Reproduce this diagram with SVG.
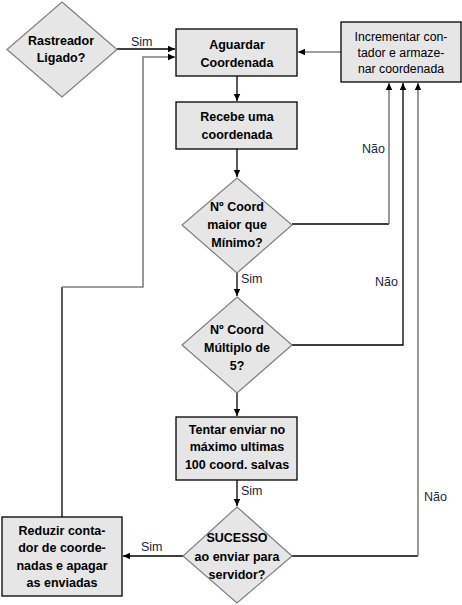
<svg xmlns="http://www.w3.org/2000/svg" width="462" height="605" viewBox="0 0 462 605">
<style>
.box{fill:#e6e6e6;stroke:#000;stroke-width:1.3}
.dia{fill:#e6e6e6;stroke:#7f7f7f;stroke-width:1.2}
.t{font-family:"Liberation Sans",Arial,sans-serif;font-size:12.5px;font-weight:bold;fill:#000;text-anchor:middle}
.tr{font-family:"Liberation Sans",Arial,sans-serif;font-size:12.3px;fill:#000;text-anchor:middle}
.lb{font-family:"Liberation Sans",Arial,sans-serif;font-size:12.5px;fill:#1a2540}
.k{fill:none;stroke:#000;stroke-width:1.3}
.g{fill:none;stroke:#7f7f7f;stroke-width:1.6}
</style>
<defs>
<marker id="ah" markerWidth="8" markerHeight="8" refX="7" refY="4" orient="auto" markerUnits="userSpaceOnUse">
<path d="M0,0.8 L7,4 L0,7.2 Z" fill="#000"/>
</marker>
</defs>
<rect width="462" height="605" fill="#fff"/>
<g id="connectors">
<path class="k" d="M117,49 H175" marker-end="url(#ah)"/>
<path class="k" d="M62,517 V287"/>
<path class="g" d="M62,287 H143 V57 H175" marker-end="url(#ah)"/>
<path class="g" d="M341,52 H298" marker-end="url(#ah)"/>
<path class="k" d="M237,76 V101" marker-end="url(#ah)"/>
<path class="k" d="M237,149 V177" marker-end="url(#ah)"/>
<path class="k" d="M237,273 V296" marker-end="url(#ah)"/>
<path class="k" d="M237,393 V416" marker-end="url(#ah)"/>
<path class="k" d="M237,480 V506" marker-end="url(#ah)"/>
<path class="k" d="M183,556 H123" marker-end="url(#ah)"/>
<path class="k" d="M292,224 H389"/>
<path class="g" d="M389,224 V83" marker-end="url(#ah)"/>
<path class="k" d="M292,345 H403 V83" marker-end="url(#ah)"/>
<path class="k" d="M292,556 H418"/>
<path class="g" d="M418,556 V83" marker-end="url(#ah)"/>
<text class="lb" x="131" y="46">Sim</text>
<text class="lb" x="362" y="153">Não</text>
<text class="lb" x="241" y="283">Sim</text>
<text class="lb" x="375" y="286">Não</text>
<text class="lb" x="241" y="495">Sim</text>
<text class="lb" x="424" y="501">Não</text>
<text class="lb" x="141" y="551">Sim</text>
</g>
<g id="rastreador">
<polygon class="dia" points="62,2 117,49.5 62,97 7,49.5"/>
<text class="t" x="61" y="45">Rastreador</text>
<text class="t" x="61" y="62">Ligado?</text>
</g>
<g id="aguardar">
<rect class="box" x="176" y="29" width="121" height="47"/>
<text class="t" x="237" y="49">Aguardar</text>
<text class="t" x="237" y="67">Coordenada</text>
</g>
<g id="incrementar">
<rect class="box" x="341" y="22" width="120" height="60"/>
<text class="tr" x="401" y="41">Incrementar con-</text>
<text class="tr" x="401" y="57">tador e armaze-</text>
<text class="tr" x="401" y="73">nar coordenada</text>
</g>
<g id="recebe">
<rect class="box" x="176" y="102" width="121" height="47"/>
<text class="t" x="237" y="121">Recebe uma</text>
<text class="t" x="237" y="139">coordenada</text>
</g>
<g id="mínimo">
<polygon class="dia" points="237,178 292,225 237,273 182,225"/>
<text class="t" x="237" y="211">Nº Coord</text>
<text class="t" x="237" y="229">maior que</text>
<text class="t" x="237" y="247">Mínimo?</text>
</g>
<g id="multiplo">
<polygon class="dia" points="237,297 292,345 237,393 182,345"/>
<text class="t" x="237" y="334">Nº Coord</text>
<text class="t" x="237" y="352">Múltiplo de</text>
<text class="t" x="237" y="370">5?</text>
</g>
<g id="tentar">
<rect class="box" x="176" y="417" width="121" height="63"/>
<text class="t" x="237" y="434">Tentar enviar no</text>
<text class="t" x="237" y="451">máximo ultimas</text>
<text class="t" x="237" y="469">100 coord. salvas</text>
</g>
<g id="sucesso">
<polygon class="dia" points="237,507 292,556 237,603 183,556"/>
<text class="t" x="237" y="542">SUCESSO</text>
<text class="t" x="237" y="561">ao enviar para</text>
<text class="t" x="237" y="579">servidor?</text>
</g>
<g id="reduzir">
<rect class="box" x="2" y="517" width="120" height="79"/>
<text class="t" x="62" y="535">Reduzir conta-</text>
<text class="t" x="62" y="552">dor de coorde-</text>
<text class="t" x="62" y="570">nadas e apagar</text>
<text class="t" x="62" y="587">as enviadas</text>
</g>
</svg>
